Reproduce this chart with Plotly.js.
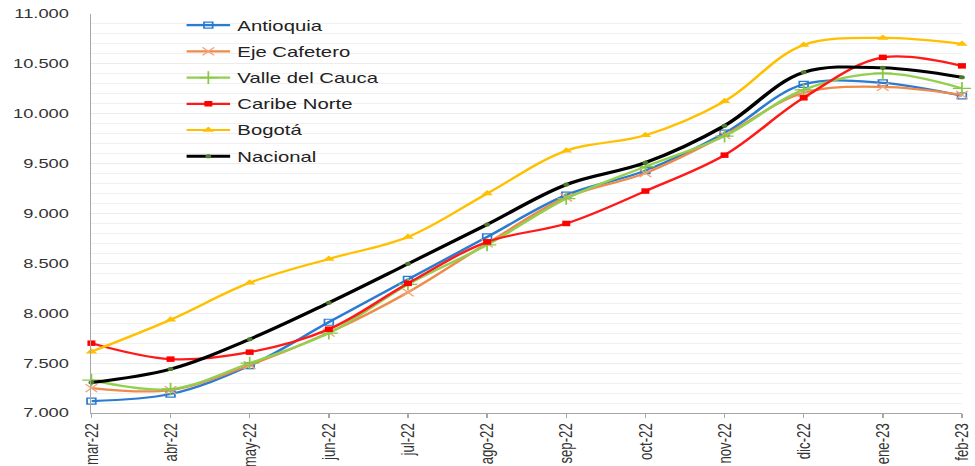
<!DOCTYPE html>
<html>
<head>
<meta charset="utf-8">
<script src="https://cdn.plot.ly/plotly-3.0.1.min.js"></script>
<style>
  html, body { margin: 0; padding: 0; background: #ffffff; overflow: hidden; }
  #chart { width: 672px; height: 466px; transform: scaleX(1.4509); transform-origin: 0 0; }
</style>
</head>
<body>
<div id="chart"></div>
<script>
const months = ['mar-22','abr-22','may-22','jun-22','jul-22','ago-22','sep-22','oct-22','nov-22','dic-22','ene-23','feb-23'];

const antioquia   = [7120, 7190, 7475, 7910, 8340, 8765, 9185, 9430, 9805, 10295, 10310, 10180];
const ejeCafetero = [7250, 7230, 7480, 7805, 8210, 8700, 9160, 9405, 9785, 10210, 10270, 10190];
const valleCauca  = [7330, 7240, 7500, 7800, 8290, 8685, 9150, 9470, 9775, 10240, 10405, 10255];
const caribeNorte = [7700, 7540, 7610, 7840, 8300, 8715, 8900, 9225, 9585, 10160, 10565, 10480];
const bogota      = [7615, 7935, 8305, 8545, 8765, 9200, 9630, 9785, 10125, 10690, 10760, 10700];
const nacional    = [7305, 7440, 7740, 8105, 8495, 8890, 9290, 9510, 9880, 10415, 10460, 10365];

const yTicks = [7000, 7500, 8000, 8500, 9000, 9500, 10000, 10500, 11000];

function series(name, values, color, width, marker, group) {
  return {
    type: 'scatter',
    mode: 'lines+markers',
    name: name,
    x: months,
    y: values,
    legendgroup: group,
    cliponaxis: false,
    line: { color: color, width: width, shape: 'spline', smoothing: 1 },
    marker: marker
  };
}

const data = [
  series('Antioquia', antioquia, '#2a7bd2', 2.2,
    { symbol: 'square-open', size: 6, color: '#2a7bd2', line: { width: 1.2, color: '#2a7bd2' } }, 'g1'),
  series('Eje Cafetero', ejeCafetero, '#ee8a4a', 2.2,
    { symbol: 'x-thin-open', size: 8, color: '#f4a37a', line: { width: 1.2, color: '#f4a37a' } }, 'g2'),
  series('Valle del Cauca', valleCauca, '#92d050', 2.2,
    { symbol: 'cross-thin-open', size: 9, color: '#86c846', line: { width: 1.2, color: '#86c846' } }, 'g3'),
  series('Caribe Norte', caribeNorte, '#ff1a1a', 2.2,
    { symbol: 'square', size: 5.5, color: '#ff0000' }, 'g4'),
  series('Bogotá', bogota, '#ffc000', 2.2,
    { symbol: 'triangle-up', size: 7, color: '#ffc000' }, 'g5'),
  series('Nacional', nacional, '#000000', 3,
    { symbol: 'circle', size: 4, color: '#4f7a2a' }, 'g6')
];

const layout = {
  width: 672,
  height: 466,
  margin: { l: 63, r: 9, t: 14, b: 53, pad: 0 },
  paper_bgcolor: '#ffffff',
  plot_bgcolor: '#ffffff',
  separators: ',.',
  font: { family: '"Liberation Sans", Arial, sans-serif', color: '#333333' },
  showlegend: true,
  legend: {
    x: 0.101, y: 1.011, xanchor: 'left', yanchor: 'top',
    bgcolor: 'rgba(255,255,255,0)',
    font: { size: 14, color: '#222222' },
    traceorder: 'grouped',
    tracegroupgap: 5,
    itemwidth: 30
  },
  xaxis: {
    type: 'category',
    range: [0, months.length - 1],
    showgrid: false,
    showline: true,
    linecolor: '#a6a6a6',
    linewidth: 1,
    ticks: 'outside',
    ticklen: 4,
    tickcolor: '#a6a6a6',
    tickangle: -90,
    tickfont: { size: 13.2, color: '#333333' },
    zeroline: false,
    fixedrange: true
  },
  yaxis: {
    range: [7000, 11000],
    tickvals: yTicks,
    tickformat: ',.0f',
    showgrid: true,
    gridcolor: '#ececec',
    gridwidth: 1,
    minor: { dtick: 100, showgrid: true, gridcolor: '#f0f0f0', gridwidth: 1 },
    showline: true,
    linecolor: '#a6a6a6',
    linewidth: 1,
    ticks: '',
    ticklabelstandoff: 12,
    tickfont: { size: 12.6, color: '#333333' },
    zeroline: false,
    fixedrange: true
  }
};

Plotly.newPlot('chart', data, layout, { displayModeBar: false, staticPlot: true, responsive: false });
</script>
</body>
</html>
